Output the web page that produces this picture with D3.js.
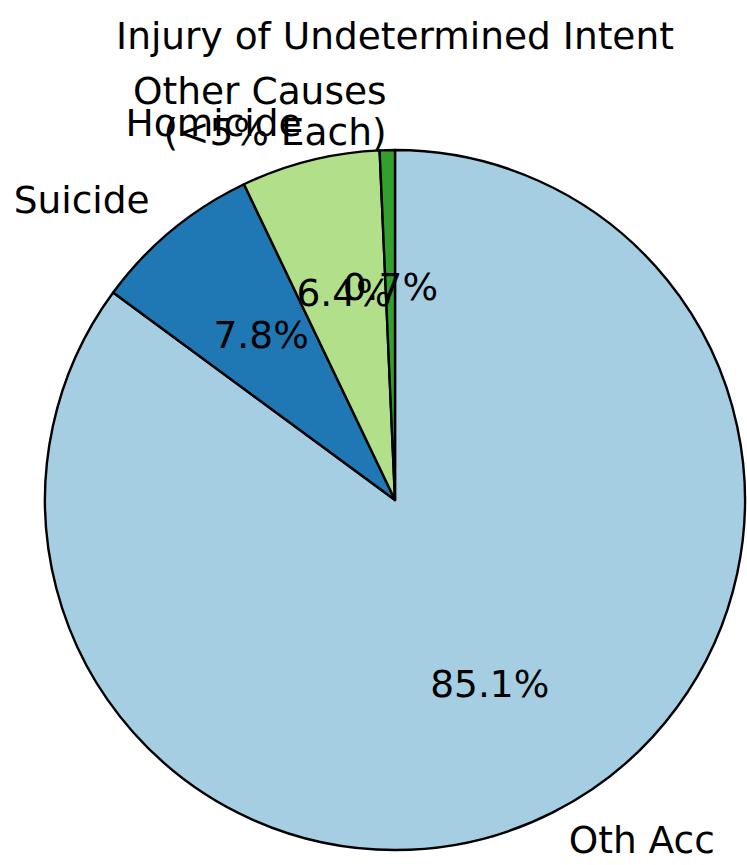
<!DOCTYPE html>
<html>
<head>
<meta charset="utf-8">
<script src="https://cdn.jsdelivr.net/npm/d3@7"></script>
<style>
  html, body { margin: 0; padding: 0; background: #fff; }
  svg { display: block; }
  text { font-family: "DejaVu Sans", sans-serif; fill: #000; }
</style>
</head>
<body>
<svg id="chart" width="747" height="865"></svg>
<script>
const categories = ["Oth Acc", "Suicide", "Homicide", "Other Causes\n(<5% Each)"];
const values = [85.1, 7.8, 6.4, 0.7];
const colors = ["#a6cee3", "#1f78b4", "#b2df8a", "#33a02c"];
const title = "Injury of Undetermined Intent";

const svg = d3.select("#chart");
const cx = 395, cy = 500, R = 350;
const fontSize = 37.5;

const total = d3.sum(values);
const pie = d3.pie().sort(null).value(d => d.v).startAngle(0).endAngle(2 * Math.PI);
const arcs = pie(categories.map((c, i) => ({ c, v: values[i], col: colors[i] })));

const g = svg.append("g").attr("transform", `translate(${cx},${cy})`);
const arc = d3.arc().innerRadius(0).outerRadius(R);
const labelArc = d3.arc().innerRadius(R * 1.1).outerRadius(R * 1.1);
const pctArc = d3.arc().innerRadius(R * 0.6).outerRadius(R * 0.6);

g.selectAll("path.wedge").data(arcs).enter().append("path")
  .attr("class", "wedge")
  .attr("d", arc)
  .attr("fill", d => d.data.col)
  .attr("stroke", "#000")
  .attr("stroke-width", 2.4)
  .attr("stroke-linejoin", "round");

arcs.forEach(d => {
  const [lx, ly] = labelArc.centroid(d);
  const anchor = lx >= 0 ? "start" : "end";
  const lines = d.data.c.split("\n");
  const lh = 41;
  const t = g.append("text")
    .attr("text-anchor", anchor)
    .attr("font-size", fontSize);
  lines.forEach((ln, k) => {
    t.append("tspan")
      .attr("x", lx)
      .attr("y", ly + (k - (lines.length - 1) / 2) * lh)
      .attr("dy", "0.26em")
      .text(ln);
  });
  const [px, py] = pctArc.centroid(d);
  g.append("text")
    .attr("x", px).attr("y", py)
    .attr("dy", "0.26em")
    .attr("text-anchor", "middle")
    .attr("font-size", fontSize)
    .text(d3.format(".1f")(d.data.v / total * 100) + "%");
});

svg.append("text")
  .attr("x", cx).attr("y", 49)
  .attr("text-anchor", "middle")
  .attr("font-size", fontSize)
  .text(title);
</script>
</body>
</html>
